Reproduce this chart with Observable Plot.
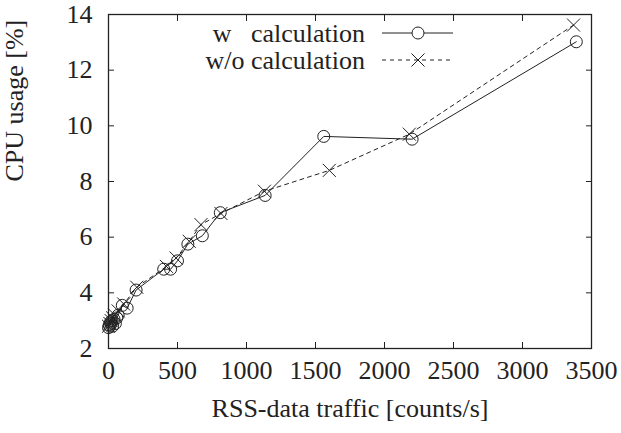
<!DOCTYPE html>
<html>
<head>
<meta charset="utf-8">
<script src="https://cdn.jsdelivr.net/npm/d3@7"></script>
<script src="https://cdn.jsdelivr.net/npm/@observablehq/plot@0.6"></script>
<style>
  html, body { margin: 0; padding: 0; background: #fff; }
  #chart { position: relative; width: 621px; height: 433px; }
  #legend { position: absolute; left: 0; top: 0; pointer-events: none; }
</style>
</head>
<body>
<div id="chart"></div>
<script>
// CPU usage measured with and without the calculation step
const wTraffic = [0, 5, 10, 15, 20, 25, 30, 40, 50, 60, 70, 100, 135, 200, 400, 450, 500, 575, 680, 810, 1135, 1560, 2200, 3390];
const wCpu     = [2.75, 2.85, 2.8, 2.95, 2.9, 3.0, 2.8, 3.05, 2.9, 3.1, 3.2, 3.55, 3.45, 4.1, 4.85, 4.85, 5.15, 5.75, 6.05, 6.88, 7.5, 9.62, 9.52, 13.02];

const woTraffic = [0, 10, 20, 30, 45, 70, 110, 205, 420, 490, 585, 670, 815, 1130, 1600, 2180, 3370];
const woCpu     = [2.8, 2.9, 3.0, 3.1, 3.2, 3.35, 3.6, 4.2, 4.95, 5.25, 5.85, 6.45, 6.85, 7.65, 8.4, 9.7, 13.62];

const xTicks = [0, 500, 1000, 1500, 2000, 2500, 3000, 3500];
const yTicks = [2, 4, 6, 8, 10, 12, 14];
const seriesNames = ["w   calculation", "w/o calculation"];

const withCalc = wTraffic.map((x, i) => ({x, y: wCpu[i]}));
const withoutCalc = woTraffic.map((x, i) => ({x, y: woCpu[i]}));

const ink = "#222";
const font = "'Liberation Serif', 'Times New Roman', serif";
const tick = 6;
const dash = "4,4";

const chart = Plot.plot({
  width: 621,
  height: 433,
  marginLeft: 108,
  marginRight: 30,
  marginTop: 14,
  marginBottom: 85,
  style: {fontFamily: font, fontSize: "26px", color: ink, background: "#fff"},
  x: {domain: [0, 3500]},
  y: {domain: [2, 14]},
  marks: [
    Plot.axisX(xTicks, {anchor: "bottom", tickSize: -tick, tickPadding: tick + 12, label: null, tickFormat: d => String(d)}),
    Plot.axisX(xTicks, {anchor: "top", tickSize: -tick, tickFormat: () => "", label: null}),
    Plot.axisY(yTicks, {anchor: "left", tickSize: -tick, tickPadding: tick + 16, label: null, tickFormat: d => String(d)}),
    Plot.axisY(yTicks, {anchor: "right", tickSize: -tick, tickFormat: () => "", label: null}),
    Plot.frame({stroke: ink, strokeWidth: 1.3}),
    Plot.line(withoutCalc, {x: "x", y: "y", stroke: ink, strokeWidth: 1, strokeDasharray: dash}),
    Plot.line(withCalc, {x: "x", y: "y", stroke: ink, strokeWidth: 1}),
    Plot.dot(withoutCalc, {x: "x", y: "y", symbol: "times", r: 6, stroke: ink, strokeWidth: 1}),
    Plot.dot(withCalc, {x: "x", y: "y", symbol: "circle", r: 6, stroke: ink, strokeWidth: 1, fill: "none"}),
    Plot.text(["RSS-data traffic [counts/s]"], {frameAnchor: "bottom", dy: 68, text: d => d, fill: ink}),
    Plot.text(["CPU usage [%]"], {frameAnchor: "left", dx: -94, rotate: -90, text: d => d, fill: ink})
  ]
});

const host = document.getElementById("chart");
host.appendChild(chart);

// key, drawn inside the plotting area near the top
const keyStyles = [
  {dash: null, marker: "circle"},
  {dash: dash, marker: "times"}
];
const key = d3.create("svg")
  .attr("id", "legend")
  .attr("width", 621)
  .attr("height", 433)
  .attr("font-family", font)
  .attr("font-size", 26)
  .attr("fill", ink);

seriesNames.forEach((name, i) => {
  const cy = 33 + i * 27;
  const g = key.append("g");
  g.append("text")
    .attr("x", 365)
    .attr("y", cy + 9)
    .attr("text-anchor", "end")
    .style("white-space", "pre")
    .attr("xml:space", "preserve")
    .text(name);
  g.append("line")
    .attr("x1", 382).attr("x2", 453)
    .attr("y1", cy).attr("y2", cy)
    .attr("stroke", ink).attr("stroke-width", 1)
    .attr("stroke-dasharray", keyStyles[i].dash);
  if (keyStyles[i].marker === "circle") {
    g.append("circle").attr("cx", 418).attr("cy", cy).attr("r", 6)
      .attr("fill", "#fff").attr("stroke", ink);
  } else {
    g.append("path").attr("d", d3.symbol(d3.symbolTimes, 113)())
      .attr("transform", `translate(418,${cy})`)
      .attr("fill", "none").attr("stroke", ink);
  }
});
host.appendChild(key.node());
</script>
</body>
</html>
